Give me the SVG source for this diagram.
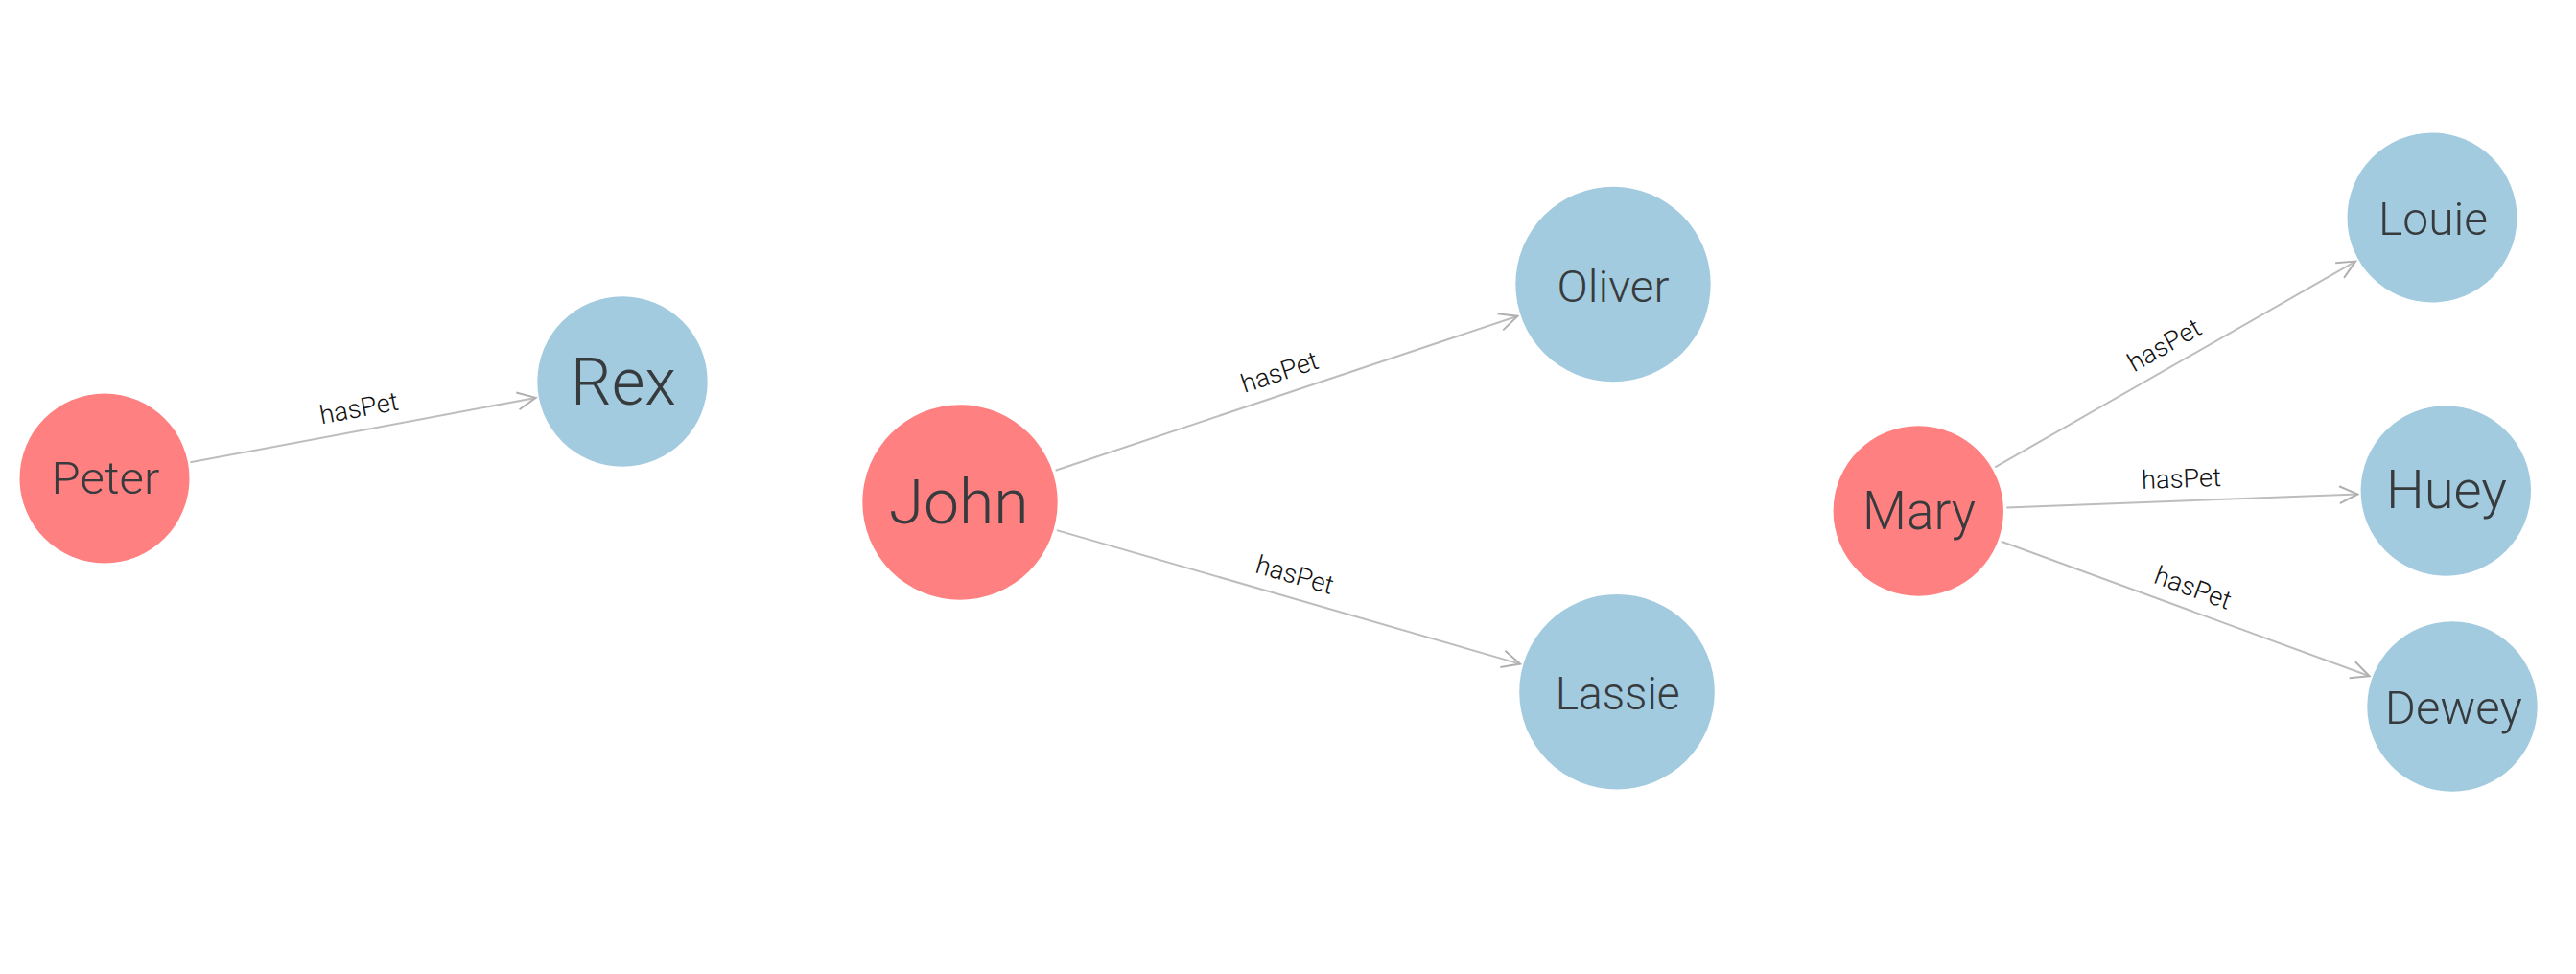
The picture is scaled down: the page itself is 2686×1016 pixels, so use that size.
<svg xmlns="http://www.w3.org/2000/svg" width="2686" height="1016" viewBox="0 0 2686 1016">
<defs>
<style>
.owner{fill:#ff8080}
.pet{fill:#a2cbdf}
.nl{font-family:Roboto,"Liberation Sans",sans-serif;font-weight:300;fill:#383b3e;text-anchor:middle}
.edge{stroke:#bdbdbd;stroke-width:2;fill:none}
.el{font-family:Roboto,"Liberation Sans",sans-serif;font-weight:300;font-size:27px;fill:#111;text-anchor:middle}
</style>
<marker id="arr" markerUnits="userSpaceOnUse" markerWidth="24" markerHeight="24" viewBox="-22 -12 24 24" refX="0" refY="0" orient="auto">
<path d="M-19,-9 L0,0 L-19,9" fill="none" stroke="#b0b0b0" stroke-width="2"/>
</marker>
</defs>
<rect width="2686" height="1016" fill="#ffffff"/>
<g id="connectors">
<line class="edge" x1="198.4" y1="482.3" x2="558.6" y2="414.9" marker-end="url(#arr)"/>
<line class="edge" x1="1100.6" y1="490.7" x2="1582.4" y2="329.8" marker-end="url(#arr)"/>
<line class="edge" x1="1101.9" y1="553.1" x2="1585.1" y2="692.6" marker-end="url(#arr)"/>
<line class="edge" x1="2080.2" y1="487.4" x2="2456.1" y2="272.6" marker-end="url(#arr)"/>
<line class="edge" x1="2092.2" y1="529.5" x2="2458.4" y2="515.5" marker-end="url(#arr)"/>
<line class="edge" x1="2086.7" y1="564.7" x2="2470.6" y2="705.3" marker-end="url(#arr)"/>
<text class="el" transform="translate(378.5,448.6) rotate(-10.6)" y="-14" textLength="83" lengthAdjust="spacingAndGlyphs">hasPet</text>
<text class="el" transform="translate(1341.5,410.2) rotate(-18.5)" y="-14" textLength="83" lengthAdjust="spacingAndGlyphs">hasPet</text>
<text class="el" transform="translate(1343.5,622.9) rotate(16.1)" y="-15" textLength="83" lengthAdjust="spacingAndGlyphs">hasPet</text>
<text class="el" transform="translate(2268.2,380) rotate(-29.7)" y="-14" textLength="83" lengthAdjust="spacingAndGlyphs">hasPet</text>
<text class="el" transform="translate(2275.3,522.5) rotate(-2.2)" y="-14" textLength="83" lengthAdjust="spacingAndGlyphs">hasPet</text>
<text class="el" transform="translate(2278.7,635) rotate(20.1)" y="-14" textLength="83" lengthAdjust="spacingAndGlyphs">hasPet</text>
</g>
<g id="node-peter"><circle class="owner" cx="109" cy="499" r="88.5"/><text class="nl" x="110" y="515" font-size="47" textLength="113" lengthAdjust="spacingAndGlyphs">Peter</text></g>
<g id="node-rex"><circle class="pet" cx="649" cy="398" r="88.7"/><text class="nl" x="650" y="421.7" font-size="69" textLength="110" lengthAdjust="spacingAndGlyphs">Rex</text></g>
<g id="node-john"><circle class="owner" cx="1001" cy="524" r="101.7"/><text class="nl" x="999.7" y="545.7" font-size="64" textLength="146" lengthAdjust="spacingAndGlyphs">John</text></g>
<g id="node-oliver"><circle class="pet" cx="1682" cy="296.5" r="101.7"/><text class="nl" x="1682" y="315" font-size="47" textLength="117" lengthAdjust="spacingAndGlyphs">Oliver</text></g>
<g id="node-lassie"><circle class="pet" cx="1686" cy="721.7" r="101.8"/><text class="nl" x="1686.7" y="740" font-size="48" textLength="130" lengthAdjust="spacingAndGlyphs">Lassie</text></g>
<g id="node-mary"><circle class="owner" cx="2000.3" cy="533" r="88.7"/><text class="nl" x="2001" y="551.7" font-size="55" textLength="118" lengthAdjust="spacingAndGlyphs">Mary</text></g>
<g id="node-louie"><circle class="pet" cx="2536" cy="227" r="88.5"/><text class="nl" x="2537" y="245" font-size="49" textLength="114" lengthAdjust="spacingAndGlyphs">Louie</text></g>
<g id="node-huey"><circle class="pet" cx="2550.3" cy="512" r="88.7"/><text class="nl" x="2551" y="530" font-size="56" textLength="126" lengthAdjust="spacingAndGlyphs">Huey</text></g>
<g id="node-dewey"><circle class="pet" cx="2557" cy="737" r="88.7"/><text class="nl" x="2558.3" y="755" font-size="49" textLength="143" lengthAdjust="spacingAndGlyphs">Dewey</text></g>
</svg>
